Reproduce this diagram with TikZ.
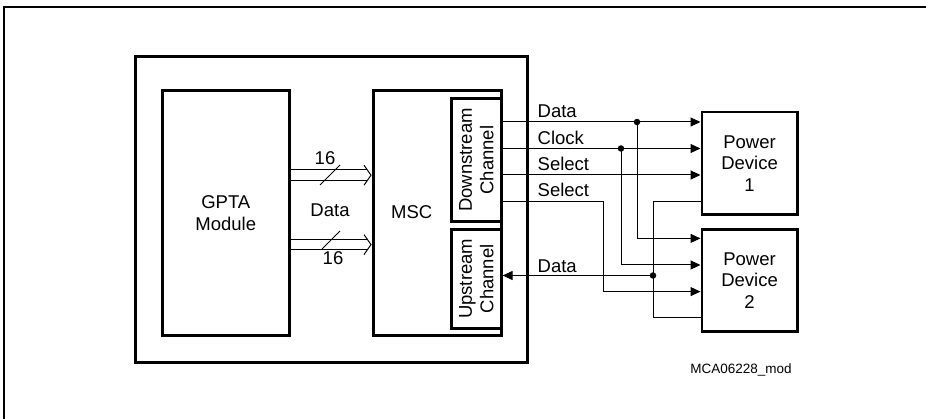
\documentclass[tikz,border=0pt]{standalone}
\usepackage{fontspec}
\setmainfont{Liberation Sans}
\usetikzlibrary{arrows.meta,calc}
\begin{document}
\begin{tikzpicture}[x=1pt,y=-1pt,
  blk/.style={draw, line width=2.6pt, inner sep=0pt, anchor=north west},
  sig/.style={line width=1pt},
  arr/.style={sig, -{Triangle[length=10pt,width=9pt]}},
  dot/.style={circle, fill, inner sep=0pt, minimum size=6.5pt},
  lbl/.style={font=\fontsize{18.5}{21.5}\selectfont, inner sep=0pt, align=center},
  busline/.style={line width=1pt, line join=miter},
]
\useasboundingbox (0,0) rectangle (926,419);
\fill[white] (0,0) rectangle (926,419);
% outer frame
\coordinate (fBL) at (4,430);
\coordinate (fTL) at (4,7);
\coordinate (fTR) at (935,7);
\draw[line width=1.2pt] (fBL) -- (fTL) -- (fTR);

% blocks
\node[blk, minimum width=392pt, minimum height=306pt] (soc) at (134,55) {};
\node[blk, minimum width=127pt, minimum height=245pt, lbl] (gpta) at (161,89.5) {GPTA\\Module};
\node[blk, minimum width=128pt, minimum height=245pt] (msc) at (372,89.5) {};
\node[blk, minimum width=50pt, minimum height=122.5pt] (ds) at (450,97.5) {};
\node[blk, minimum width=50pt, minimum height=99pt] (us) at (450,228) {};
\node[blk, minimum width=95.5pt, minimum height=102.5pt, lbl] (pd1) at (700.5,110.6) {Power\\Device\\1};
\node[blk, minimum width=95.5pt, minimum height=102pt, lbl] (pd2) at (700.5,228) {Power\\Device\\2};

\node[lbl, rotate=90] (dsT) at (ds.center) {Downstream\\Channel};
\node[lbl, rotate=90] (usT) at (us.center) {Upstream\\Channel};
\node[lbl] (mscT) at (411.7,212.5) {MSC};

% bus between GPTA and MSC (hollow arrows)
\foreach \yy/\nm in {175.2/a, 244.6/b} {
  \coordinate (bt\nm) at ($(msc.west |- 0,\yy) + (-1,0)$);
  \coordinate (bu\nm) at ($(bt\nm) + (-7,-10)$);
  \coordinate (bd\nm) at ($(bt\nm) + (-7,10)$);
  \draw[busline] (gpta.east |- 0,\yy-5.2) -- ($(bt\nm) + (-4.4,-5.2)$);
  \draw[busline] (gpta.east |- 0,\yy+5.2) -- ($(bt\nm) + (-4.4,5.2)$);
  \draw[busline] (bu\nm) -- (bt\nm) -- (bd\nm);
}
\coordinate (s1a) at (320,185);
\coordinate (s1b) at (340,165);
\coordinate (s2a) at (322,249);
\coordinate (s2b) at (340,231);
\draw[sig] (s1a) -- (s1b);
\draw[sig] (s2a) -- (s2b);
\node[lbl] (n16a) at (325,158.5) {16};
\node[lbl] (n16b) at (333,258) {16};
\node[lbl] (dataM) at (330,210.5) {Data};

% signal levels
\coordinate (yD) at (0,122);
\coordinate (yC) at (0,148.5);
\coordinate (yS) at (0,175);
\coordinate (yS2) at (0,201.5);
\coordinate (yU) at (0,275.5);
\coordinate (y2a) at (0,238.4);
\coordinate (y2b) at (0,265);
\coordinate (y2c) at (0,291.6);
\coordinate (yF) at (0,318);

\node[dot] (dD) at (637,122) {};
\node[dot] (dC) at (621,148.5) {};
\node[dot] (dU) at (653,275.5) {};
\coordinate (kS) at (603.6,201.5);
\coordinate (kF) at (653,201.5);

\draw[arr] (ds.east |- yD) -- (pd1.west |- yD);
\draw[arr] (ds.east |- yC) -- (pd1.west |- yC);
\draw[arr] (ds.east |- yS) -- (pd1.west |- yS);
\draw[arr] (dD.center) |- (pd2.west |- y2a);
\draw[arr] (dC.center) |- (pd2.west |- y2b);
\draw[arr] (ds.east |- yS2) -- (kS) |- (pd2.west |- y2c);
\draw[sig] (pd1.west |- yS2) -- (kF) |- (pd2.west |- yF);
\draw[arr] (dU.center) -- (us.east |- yU);

% signal labels
\node[lbl, anchor=west] (lD) at (537.5,111.6) {Data};
\node[lbl, anchor=west] (lC) at (537.5,137.5) {Clock};
\node[lbl, anchor=west] (lS) at (537.5,163.8) {Select};
\node[lbl, anchor=west] (lS2) at (537.5,190.2) {Select};
\node[lbl, anchor=west] (lU) at (537.5,266) {Data};

\node[font=\fontsize{13.5}{16}\selectfont, inner sep=0pt] (ref) at (741,369.8) {MCA06228\_mod};
\end{tikzpicture}
\end{document}
